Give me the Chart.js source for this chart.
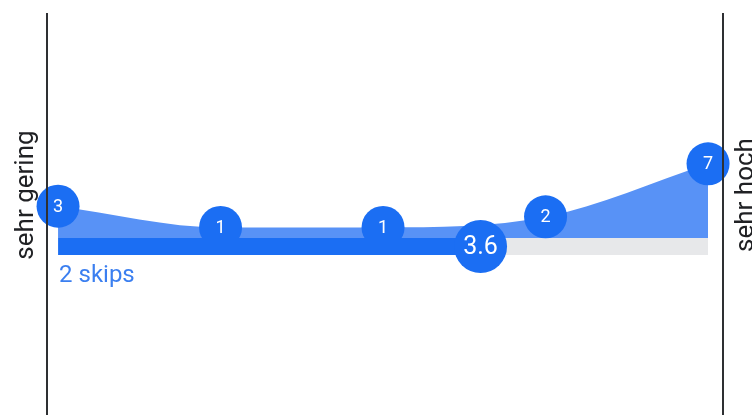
<!DOCTYPE html>
<html>
<head>
<meta charset="utf-8">
<script src="https://cdn.jsdelivr.net/npm/chart.js@4"></script>
<style>
  html, body { margin: 0; padding: 0; background: #ffffff; }
  #wrap { position: relative; width: 752px; height: 415px; }
</style>
</head>
<body>
<div id="wrap"><canvas id="c"></canvas></div>
<script>
// ---- data ----
const categories = [1, 2, 3, 4, 5];          // answer scale positions
const counts = [3, 1, 1, 2, 7];              // responses per position
const meanValue = 3.6;                        // average answer
const leftLabel = "sehr gering";
const rightLabel = "sehr hoch";
const skipsLabel = "2 skips";

// ---- styling constants ----
const BLUE = "#1b6ef3";
const AREA = "#5892f6";
const GREY = "#e7e8ea";
const BAR_DEPTH = 1.6;      // bar thickness in y units
const MEAN_Y = -0.8;        // vertical placement of mean marker inside bar

const curveData = categories.map((c, i) => ({ x: c, y: counts[i] }));
const greyBar = [{ x: categories[0], y: 0 }, { x: categories[categories.length - 1], y: 0 }];
const blueBar = [{ x: categories[0], y: 0 }, { x: meanValue, y: 0 }];

const overlay = {
  id: "overlay",
  afterDatasetsDraw(chart) {
    const ctx = chart.ctx;
    const xs = chart.scales.x, ys = chart.scales.y;
    ctx.save();
    ctx.fillStyle = "#ffffff";
    ctx.textAlign = "center";
    ctx.textBaseline = "middle";
    const m0 = chart.getDatasetMeta(0);
    m0.data.forEach((pt, i) => {
      ctx.font = "18px Roboto";
      ctx.fillText(String(counts[i]), pt.x, pt.y + 1);
    });
    const m1 = chart.getDatasetMeta(1);
    m1.data.forEach(pt => {
      ctx.font = "25px Roboto";
      ctx.fillText(String(meanValue), pt.x, pt.y + 1);
    });
    ctx.fillStyle = "#3b7ff0";
    ctx.textAlign = "left";
    ctx.textBaseline = "alphabetic";
    ctx.font = "24px Roboto";
    ctx.fillText(skipsLabel, xs.getPixelForValue(categories[0]) + 1, ys.getPixelForValue(-BAR_DEPTH) + 27);
    ctx.restore();
  },
  afterDraw(chart) {
    const ctx = chart.ctx;
    const a = chart.chartArea;
    ctx.save();
    ctx.strokeStyle = "#2e3033";
    ctx.lineWidth = 2;
    [a.left, a.right].forEach(x => {
      ctx.beginPath();
      ctx.moveTo(x, 13);
      ctx.lineTo(x, chart.height);
      ctx.stroke();
    });
    ctx.fillStyle = "#202124";
    ctx.font = "26px Roboto";
    ctx.textAlign = "center";
    ctx.textBaseline = "alphabetic";
    const midY = 195;
    ctx.save();
    ctx.translate(33, midY);
    ctx.rotate(-Math.PI / 2);
    ctx.fillText(leftLabel, 0, 0);
    ctx.restore();
    ctx.save();
    ctx.translate(753, midY);
    ctx.rotate(-Math.PI / 2);
    ctx.fillText(rightLabel, 0, 0);
    ctx.restore();
    ctx.restore();
  }
};

new Chart(document.getElementById("c"), {
  type: "line",
  data: {
    datasets: [
      {
        label: "counts",
        data: curveData,
        fill: "origin",
        backgroundColor: AREA,
        borderColor: "rgba(0,0,0,0)",
        borderWidth: 0,
        cubicInterpolationMode: "monotone",
        pointRadius: 21.5,
        pointBackgroundColor: BLUE,
        pointBorderWidth: 0,
        clip: false,
        order: 2
      },
      {
        label: "mean",
        type: "scatter",
        data: [{ x: meanValue, y: MEAN_Y }],
        pointRadius: 26.5,
        pointBackgroundColor: BLUE,
        pointBorderWidth: 0,
        clip: false,
        order: 0
      },
      {
        label: "bar-fill",
        data: blueBar,
        fill: { value: -BAR_DEPTH },
        backgroundColor: BLUE,
        borderColor: "rgba(0,0,0,0)",
        borderWidth: 0,
        pointRadius: 0,
        clip: false,
        order: 1
      },
      {
        label: "bar-bg",
        data: greyBar,
        fill: { value: -BAR_DEPTH },
        backgroundColor: GREY,
        borderColor: "rgba(0,0,0,0)",
        borderWidth: 0,
        pointRadius: 0,
        clip: false,
        order: 3
      }
    ]
  },
  options: {
    responsive: true,
    maintainAspectRatio: false,
    animation: false,
    layout: { autoPadding: false, padding: { left: 47, right: 29, top: 12, bottom: 0 } },
    plugins: { legend: { display: false }, tooltip: { enabled: false } },
    scales: {
      x: { type: "linear", display: false, min: 0.932, max: 5.092 },
      y: { display: false, min: -16.7, max: 21.32 }
    }
  },
  plugins: [overlay]
});
</script>
</body>
</html>
